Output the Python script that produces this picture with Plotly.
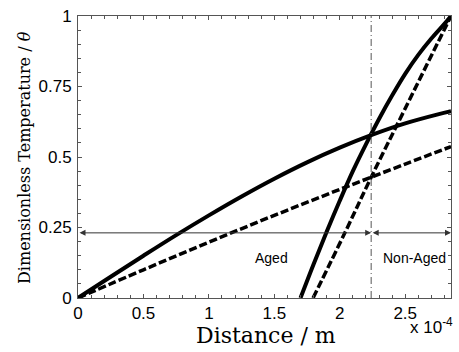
import plotly.graph_objects as go

# Distance in units of 1e-4 m, dimensionless temperature theta
aged_solid_x = [0, 0.25, 0.5, 0.75, 1.0, 1.25, 1.5, 1.75, 2.0, 2.25, 2.5, 2.75, 2.85]
aged_solid_y = [0, 0.0755, 0.150, 0.223, 0.293, 0.360, 0.423, 0.481, 0.533, 0.579, 0.619, 0.651, 0.662]

aged_dash_x = [0, 0.5, 1.0, 1.5, 2.0, 2.5, 2.85]
aged_dash_y = [0, 0.100, 0.198, 0.293, 0.385, 0.475, 0.537]

steep_solid_x = [1.70, 1.8, 1.9, 2.0, 2.1, 2.2, 2.3, 2.4, 2.5, 2.6, 2.7, 2.8, 2.85]
steep_solid_y = [0, 0.12, 0.235, 0.345, 0.45, 0.545, 0.635, 0.718, 0.795, 0.862, 0.92, 0.972, 1.0]

steep_dash_x = [1.796, 2.04, 2.24, 2.5, 2.85]
steep_dash_y = [0, 0.232, 0.428, 0.672, 1.0]

interface_x = 2.24
arrow_level = 0.231
x_max = 2.85

x_ticks = [0, 0.5, 1, 1.5, 2, 2.5]
x_tick_labels = ["0", "0.5", "1", "1.5", "2", "2.5"]
y_ticks = [0, 0.25, 0.5, 0.75, 1]
y_tick_labels = ["0", "0.25", "0.5", "0.75", "1"]

fig = go.Figure()
fig.add_trace(go.Scatter(x=aged_solid_x, y=aged_solid_y, mode="lines",
                         line=dict(color="black", width=4), line_shape="spline"))
fig.add_trace(go.Scatter(x=aged_dash_x, y=aged_dash_y, mode="lines",
                         line=dict(color="black", width=3.5, dash="8px,3px"), line_shape="spline"))
fig.add_trace(go.Scatter(x=steep_solid_x, y=steep_solid_y, mode="lines",
                         line=dict(color="black", width=4), line_shape="spline"))
fig.add_trace(go.Scatter(x=steep_dash_x, y=steep_dash_y, mode="lines",
                         line=dict(color="black", width=3.5, dash="8px,3px"), line_shape="spline"))

# interface line
fig.add_trace(go.Scatter(x=[interface_x, interface_x], y=[0, 1], mode="lines",
                         line=dict(color="#555", width=1, dash="7px,3px,1px,3px")))

axis_font = dict(family="Liberation Sans, Arial, sans-serif", size=17, color="black")
label_font = dict(family="Liberation Sans, Arial, sans-serif", size=14, color="black")

# double-headed arrows
for x0, x1 in [(0, interface_x), (interface_x, x_max)]:
    fig.add_annotation(x=x1, y=arrow_level, ax=x0, ay=arrow_level,
                       xref="x", yref="y", axref="x", ayref="y",
                       showarrow=True, arrowhead=2, startarrowhead=2,
                       arrowside="end+start", arrowsize=1.2, startarrowsize=1.2,
                       arrowwidth=1, arrowcolor="#333", text="")

fig.add_annotation(x=1.48, y=0.143, xref="x", yref="y", text="Aged", showarrow=False,
                   xanchor="center", yanchor="middle", font=label_font)
fig.add_annotation(x=2.57, y=0.143, xref="x", yref="y", text="Non-Aged", showarrow=False,
                   xanchor="center", yanchor="middle", font=label_font)

# axis titles
fig.add_annotation(x=(25 - 78) / 374, y=0.497, xref="paper", yref="paper",
                   text="Dimensionless Temperature / <i>θ</i>", textangle=-90, showarrow=False,
                   xanchor="center", yanchor="middle",
                   font=dict(family="DejaVu Serif, serif", size=16, color="black"))
fig.add_annotation(x=0.503, y=(298 - 336) / 287, xref="paper", yref="paper",
                   text="Distance / m", showarrow=False, xanchor="center", yanchor="middle",
                   font=dict(family="DejaVu Serif, serif", size=22, color="black"))
fig.add_annotation(x=(432 - 78) / 374, y=(298 - 327) / 287, xref="paper", yref="paper",
                   text="x 10<sup>-4</sup>", showarrow=False, xanchor="center", yanchor="middle",
                   font=dict(family="Liberation Sans, Arial, sans-serif", size=17, color="black"))

fig.update_layout(
    width=459, height=352,
    margin=dict(l=78, r=7, t=11, b=54),
    paper_bgcolor="white", plot_bgcolor="white",
    showlegend=False,
    xaxis=dict(range=[0, x_max], tickvals=x_ticks, ticktext=x_tick_labels,
               ticks="inside", ticklen=4, tickcolor="#555", showgrid=False, zeroline=False,
               showline=True, linecolor="#555", linewidth=1, mirror="ticks",
               tickfont=axis_font,
               minor=dict(dtick=0.1, ticks="inside", ticklen=3, tickcolor="#555", showgrid=False)),
    yaxis=dict(range=[0, 1], tickvals=y_ticks, ticktext=y_tick_labels,
               ticks="inside", ticklen=4, tickcolor="#555", showgrid=False, zeroline=False,
               showline=True, linecolor="#555", linewidth=1, mirror="ticks",
               tickfont=axis_font, ticklabelstandoff=2,
               minor=dict(dtick=0.05, ticks="inside", ticklen=3, tickcolor="#555", showgrid=False)),
)

fig.write_html("out.html")
